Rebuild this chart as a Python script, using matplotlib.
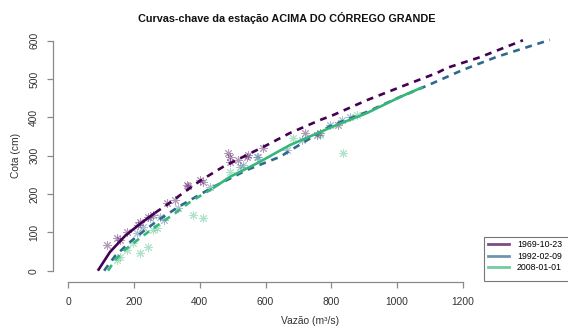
import numpy as np
from matplotlib import pyplot as plt
from matplotlib.lines import Line2D
from matplotlib.patches import Rectangle

# rating curves (vazao m3/s, cota cm)
q_1969 = [90, 127, 173, 218, 264, 309, 340, 400, 471, 544, 605, 674, 766, 806, 909, 1010, 1122, 1152, 1253, 1383]
h_1969 = [0, 49, 91, 122, 151, 177, 197, 234, 271, 302, 328, 359, 393, 406, 445, 479, 516, 529, 557, 601]

q_1992 = [109, 142, 188, 233, 279, 340, 440, 544, 644, 796, 908, 1009, 1095, 1201, 1304, 1465]
h_1992 = [0, 38, 75, 106, 135, 169, 218, 263, 297, 377, 414, 453, 484, 524, 558, 602]

q_2008 = [121, 142, 172, 218, 264, 325, 370, 440, 492, 574, 675, 805, 908, 1009, 1079]
h_2008 = [0, 28, 54, 85, 114, 150, 179, 215, 245, 280, 328, 376, 411, 453, 479]

# measurements (asterisks)
obs_q_1969 = [118, 148, 157, 178, 212, 218, 243, 258, 300, 325, 361, 365, 401, 410, 487, 493, 492, 517, 544, 547, 592, 720, 757, 766, 821]
obs_h_1969 = [67, 85, 80, 101, 119, 127, 140, 145, 177, 184, 223, 221, 237, 231, 307, 297, 284, 289, 297, 302, 320, 359, 354, 359, 380]

obs_q_1992 = [209, 227, 249, 279, 290, 334, 431, 522, 532, 574, 577, 665, 711, 797, 832, 857]
obs_h_1992 = [98, 114, 137, 140, 133, 163, 218, 271, 276, 297, 297, 315, 341, 380, 393, 401]

obs_q_2008 = [148, 157, 178, 197, 218, 243, 258, 270, 380, 410, 492, 684, 766, 836, 878]
obs_h_2008 = [28, 36, 54, 72, 46, 62, 106, 111, 145, 137, 257, 346, 354, 307, 406]

labels = ['1969-10-23', '1992-02-09', '2008-01-01']
colors = ['#440154', '#31688E', '#35B779']

plt.rcParams['font.family'] = ['Liberation Sans', 'DejaVu Sans']
txt = '#333333'
axc = '#8a8a8a'

W, H = 568, 331
fig = plt.figure(figsize=(W / 100, H / 100), dpi=100)
ax = fig.add_axes([53 / W, 49 / H, (W - 53) / W, (282 - 28) / H])

asterisk = (8, 2, 0)
for qq, hh, c in [(obs_q_1969, obs_h_1969, colors[0]),
                  (obs_q_1992, obs_h_1992, colors[1]),
                  (obs_q_2008, obs_h_2008, colors[2])]:
    ax.scatter(qq, hh, marker=asterisk, s=32, color=c, alpha=0.4, linewidths=0.7)

dash = (2.6, 2.2)
lw = 1.9

# 1969: solid at the low end, extrapolated (dashed) above
q = np.array(q_1969); h = np.array(h_1969)
ax.plot(q[q <= 264], h[q <= 264], color=colors[0], lw=lw, solid_capstyle='butt')
ax.plot(q[q >= 264], h[q >= 264], color=colors[0], lw=lw, dashes=dash)

# 1992: dashed all the way
ax.plot(q_1992, h_1992, color=colors[1], lw=lw, dashes=dash)

# 2008: dashed below, solid above
q = np.array(q_2008); h = np.array(h_2008)
ax.plot(q[q <= 440], h[q <= 440], color=colors[2], lw=lw, dashes=dash)
ax.plot(q[q >= 440], h[q >= 440], color=colors[2], lw=lw, solid_capstyle='butt')

ax.set_xlim(-46.5, 1520)
ax.set_ylim(-29.5, 633)

for s in ['top', 'right']:
    ax.spines[s].set_visible(False)
ax.spines['left'].set_bounds(0, 600)
ax.spines['bottom'].set_bounds(0, 1200)
for s in ['left', 'bottom']:
    ax.spines[s].set_color(axc)
    ax.spines[s].set_linewidth(0.9)

ax.set_xticks(np.arange(0, 1201, 200))
ax.set_yticks(np.arange(0, 601, 100))
ax.tick_params(axis='both', length=4, width=0.9, color=axc, labelcolor=txt, labelsize=7.4)
ax.tick_params(axis='x', pad=7)
ax.tick_params(axis='y', pad=6)
for t in ax.get_yticklabels():
    t.set_rotation(90)
    t.set_va('center')

ax.set_xlabel('Vazão (m³/s)', fontsize=7.4, color=txt, labelpad=6)
ax.set_ylabel('Cota (cm)', fontsize=7.4, color=txt, labelpad=6)

fig.text(287 / W, 1 - 18 / H, 'Curvas-chave da estação ACIMA DO CÓRREGO GRANDE',
         ha='center', va='center', fontsize=7.8, fontweight='bold', color='#111111')

# legend box, right side runs off the figure
box = Rectangle((484 / W, 1 - 281 / H), 120 / W, 44 / H, transform=fig.transFigure,
                facecolor='white', edgecolor='#777777', lw=0.8, zorder=5)
fig.patches.append(box)
handles = [Line2D([], [], color=c, lw=2, alpha=0.7) for c in colors]
leg = fig.legend(handles, labels, loc='upper left', bbox_to_anchor=(488 / W, 1 - 240 / H),
                 frameon=False, fontsize=6.3, handlelength=2.4, handletextpad=0.9,
                 labelspacing=0.3, borderpad=0, borderaxespad=0)
leg.set_zorder(6)

fig.savefig('out.png', dpi=100)
